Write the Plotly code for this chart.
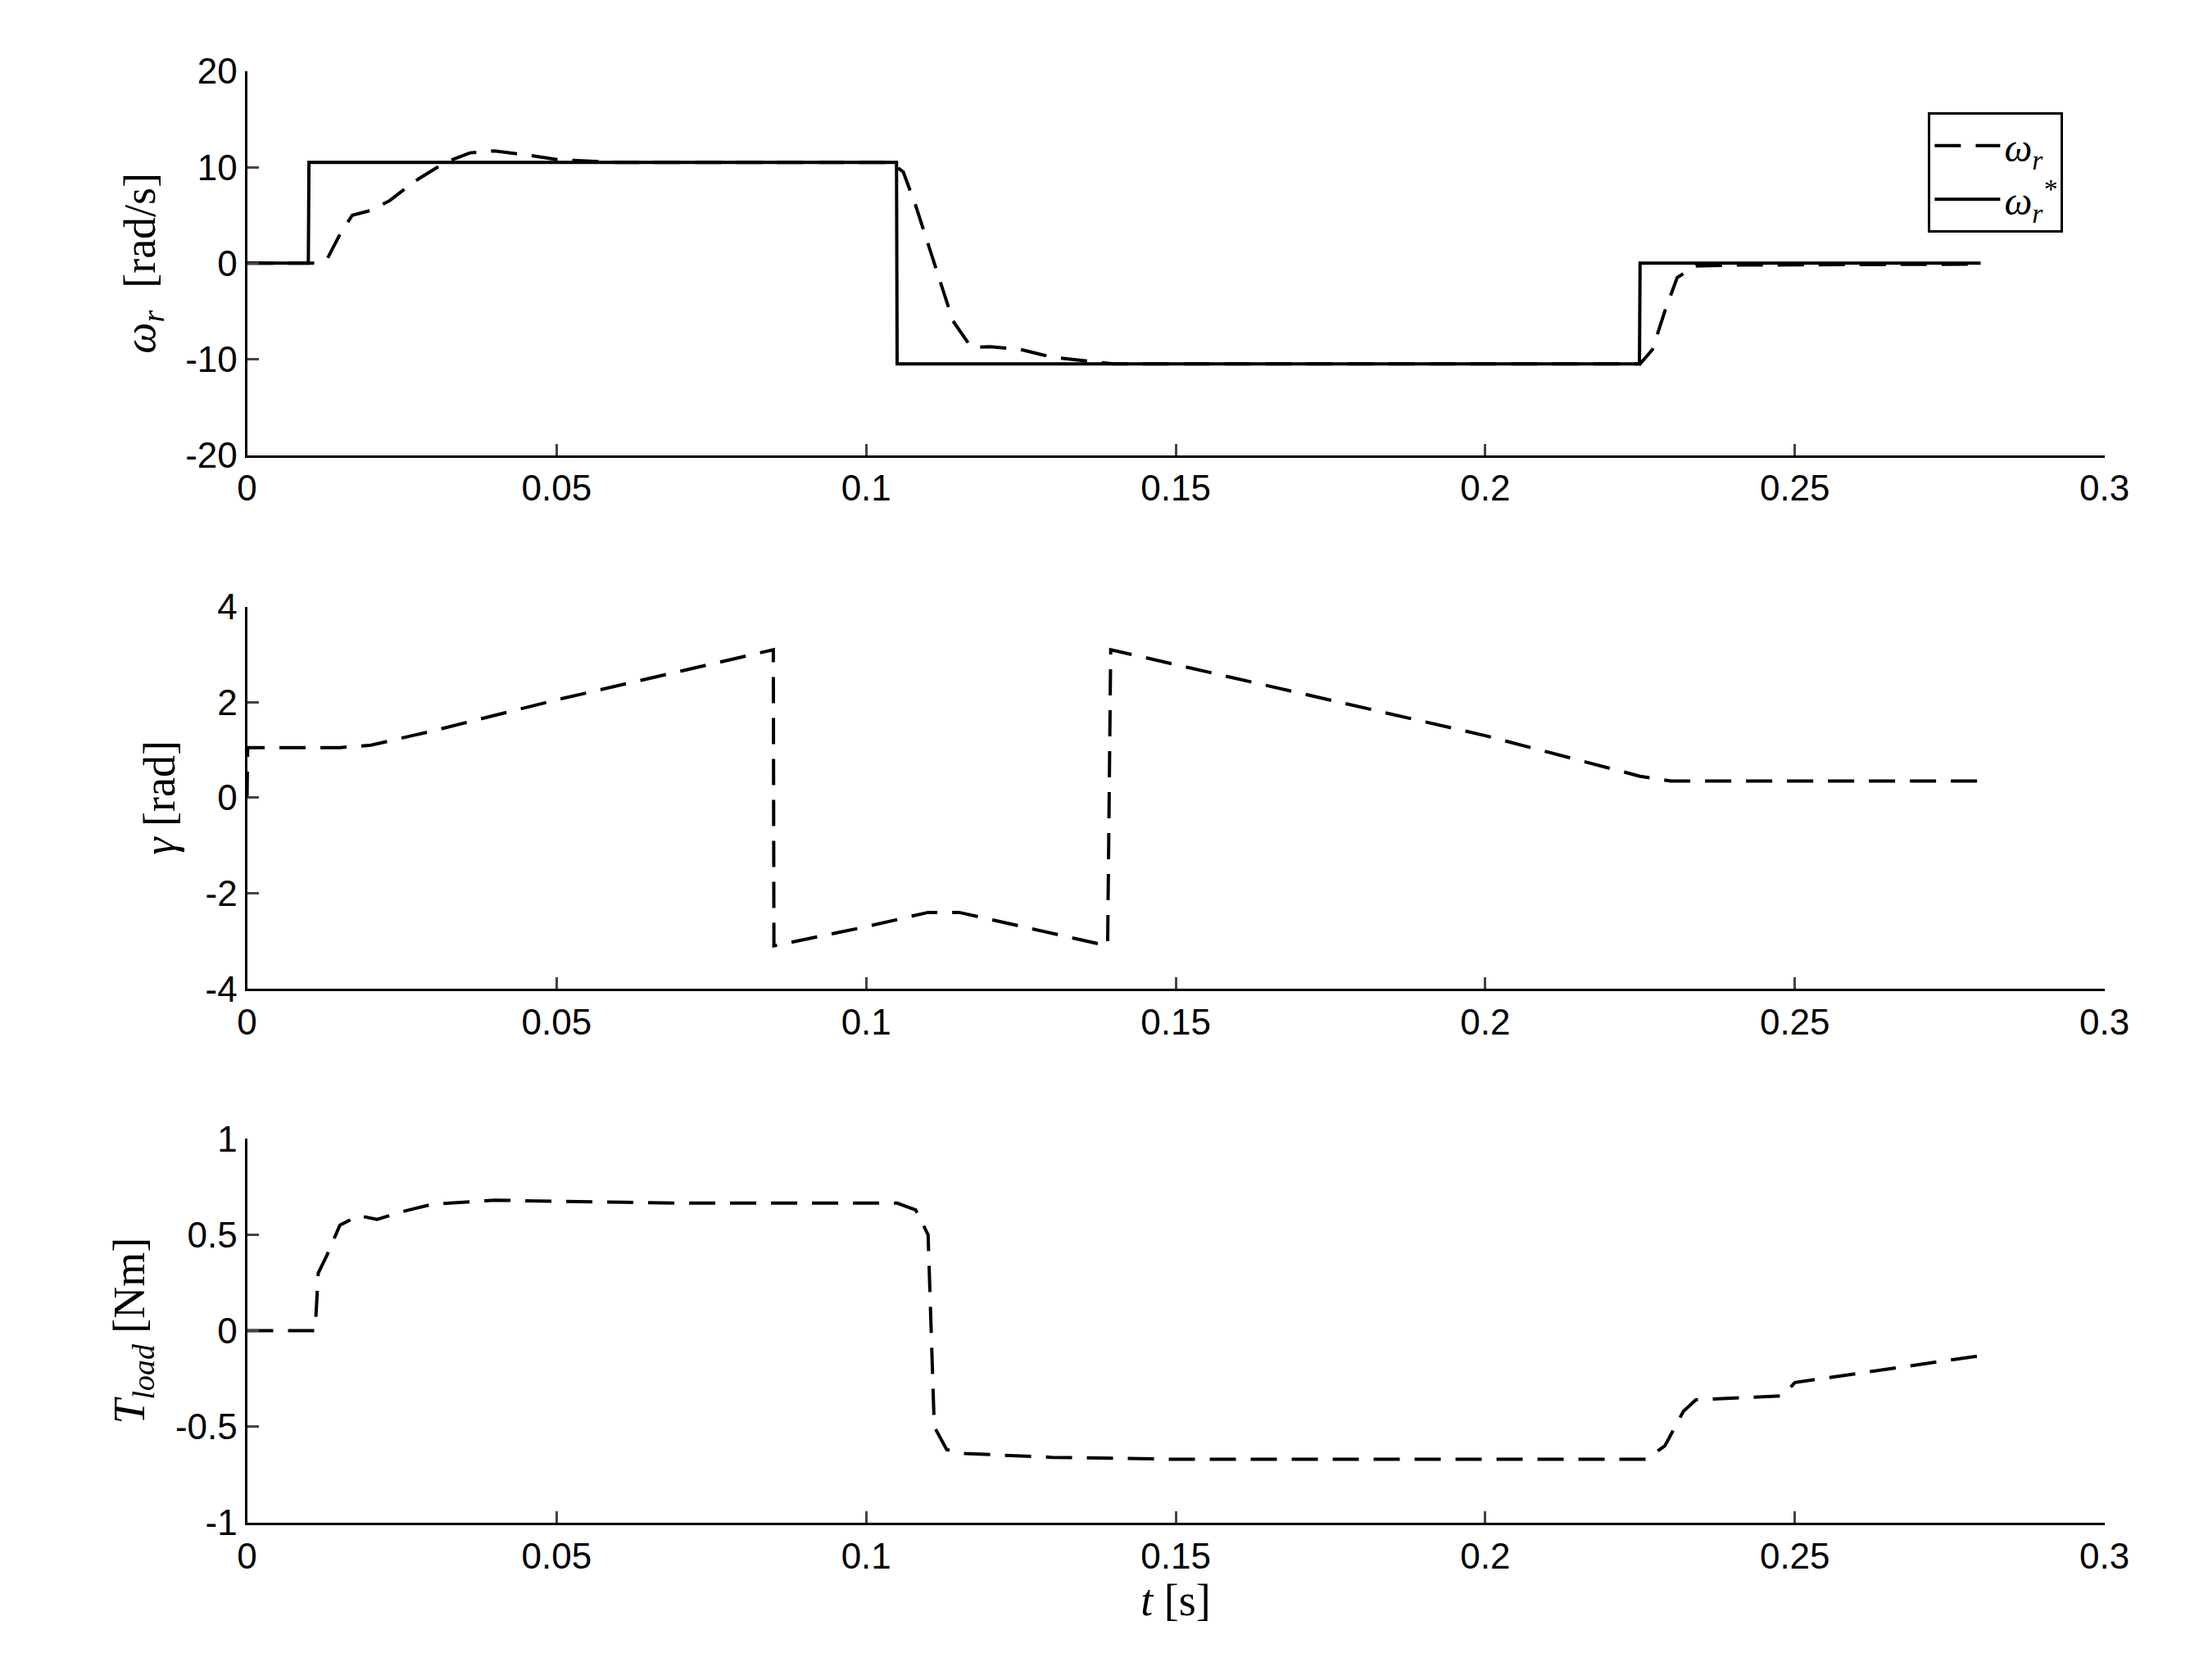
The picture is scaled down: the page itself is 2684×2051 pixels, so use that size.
import plotly.graph_objects as go
from plotly.subplots import make_subplots

# speed reference and response
t_ref = [0, 0.0099, 0.01, 0.1049, 0.105, 0.2249, 0.225, 0.28]
w_ref = [0, 0, 10.5, 10.5, -10.5, -10.5, 0, 0]

t_w = [0, 0.011, 0.013, 0.015, 0.017, 0.02, 0.023, 0.027, 0.032, 0.036, 0.04, 0.045, 0.05, 0.06, 0.104,
       0.106, 0.108, 0.111, 0.114, 0.117, 0.12, 0.125, 0.13, 0.14, 0.225, 0.227, 0.229, 0.231, 0.234, 0.24, 0.28]
w_r = [0, 0, 0.5, 3, 5, 5.5, 6.5, 8.5, 10.5, 11.5, 11.7, 11.3, 10.8, 10.5, 10.5,
       9.5, 6, 0, -6, -8.8, -8.7, -9, -9.8, -10.5, -10.5, -9, -5, -1.5, -0.3, -0.2, -0.1]

# angle
t_g = [0, 0.0001, 0.015, 0.02, 0.03, 0.05, 0.085, 0.0851, 0.1, 0.11, 0.115, 0.139, 0.1395, 0.2, 0.225, 0.23, 0.28]
gamma = [0, 1.05, 1.05, 1.1, 1.4, 2.05, 3.1, -3.1, -2.7, -2.4, -2.4, -3.1, 3.1, 1.3, 0.45, 0.35, 0.35]

# load torque
t_l = [0, 0.011, 0.0115, 0.013, 0.015, 0.018, 0.021, 0.025, 0.03, 0.04, 0.05, 0.07, 0.105, 0.108, 0.11,
       0.1105, 0.111, 0.113, 0.116, 0.13, 0.15, 0.226, 0.229, 0.232, 0.234, 0.248, 0.25, 0.28]
t_load = [0, 0, 0.3, 0.4, 0.55, 0.6, 0.58, 0.62, 0.66, 0.68, 0.675, 0.665, 0.665, 0.63, 0.5,
          0, -0.5, -0.62, -0.64, -0.66, -0.67, -0.67, -0.6, -0.42, -0.36, -0.34, -0.27, -0.13]

y_ticks = [[-20, -10, 0, 10, 20], [-4, -2, 0, 2, 4], [-1, -0.5, 0, 0.5, 1]]
y_labels = [["-20", "-10", "0", "10", "20"], ["-4", "-2", "0", "2", "4"], ["-1", "-0.5", "0", "0.5", "1"]]

fig = make_subplots(rows=3, cols=1)
dash = dict(color="black", width=4, dash="32px,18px")
solid = dict(color="black", width=4)

fig.add_trace(go.Scatter(x=t_w, y=w_r, mode="lines", line=dash, name="<i>ω<sub>r</sub></i>"), row=1, col=1)
fig.add_trace(go.Scatter(x=t_ref, y=w_ref, mode="lines", line=solid, name="<i>ω<sub>r</sub><sup>*</sup></i>"), row=1, col=1)
fig.add_trace(go.Scatter(x=t_g, y=gamma, mode="lines", line=dash, showlegend=False), row=2, col=1)
fig.add_trace(go.Scatter(x=t_l, y=t_load, mode="lines", line=dash, showlegend=False), row=3, col=1)

serif = dict(family="Liberation Serif", size=54, color="black")
ydomains = [[0.739, 0.973], [0.4135, 0.6465], [0.088, 0.322]]
yranges = [[-20, 20], [-4, 4], [-1, 1]]
ytitles = ["<i>ω<sub>r</sub></i>  [rad/s]", "<i>γ</i> [rad]", "<i>T<sub>load</sub></i> [Nm]"]
for i in range(3):
    ax = dict(showline=True, linecolor="black", linewidth=3, ticks="inside", ticklen=14,
              tickwidth=3, showgrid=False, zeroline=False, mirror=False,
              tickfont=dict(family="Liberation Sans", size=44, color="black"))
    fig.update_xaxes(domain=[0.1066, 0.965], range=[0, 0.3], dtick=0.05, **ax, row=i + 1, col=1)
    fig.update_yaxes(domain=ydomains[i], range=yranges[i], tickvals=y_ticks[i], ticktext=y_labels[i],
                     title=dict(text=ytitles[i], font=serif, standoff=20), **ax, row=i + 1, col=1)
fig.update_xaxes(title=dict(text="<i>t</i> [s]", font=serif, standoff=10), row=3, col=1)

fig.update_layout(
    width=2684, height=2051, margin=dict(l=0, r=0, t=0, b=0),
    plot_bgcolor="white", paper_bgcolor="white",
    legend=dict(x=0.946, y=0.948, xanchor="right", yanchor="top", bordercolor="black", borderwidth=3,
                itemwidth=80, font=dict(family="Liberation Serif", size=48, color="black"), bgcolor="white"),
)
fig.write_html("out.html")
